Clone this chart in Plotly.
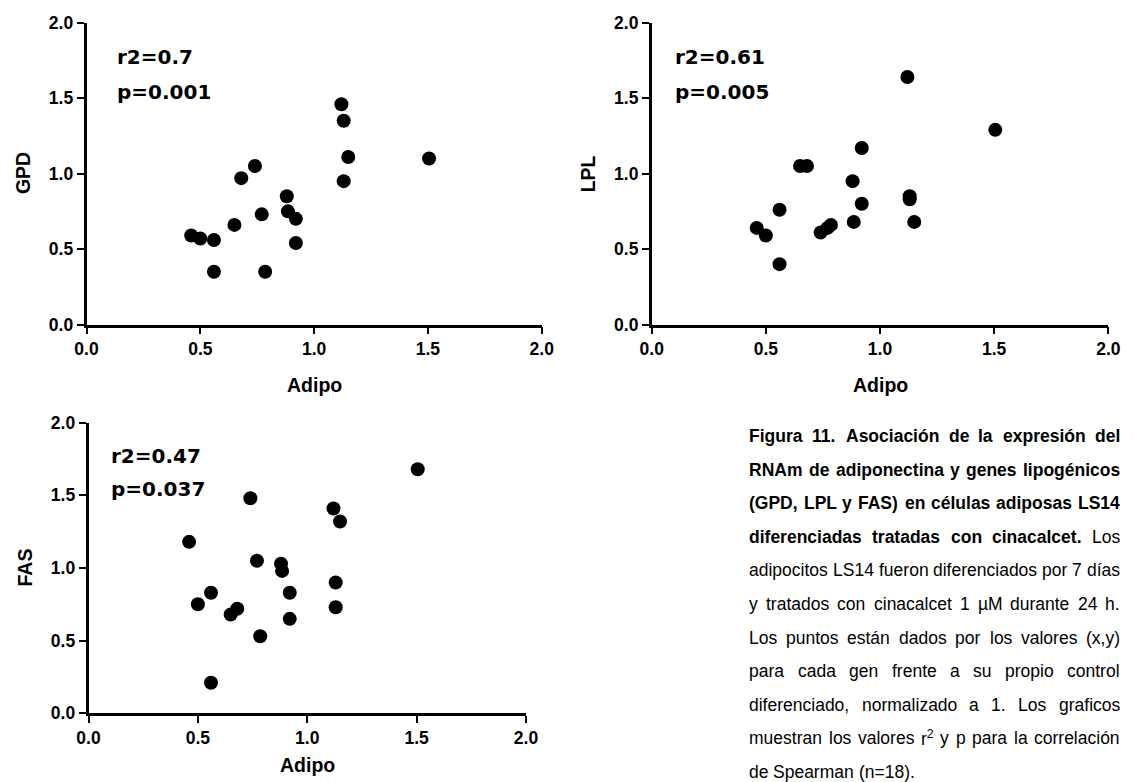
import plotly.graph_objects as go

# ---------------------------------------------------------------- data
adipo = [0.46, 0.50, 0.56, 0.56, 0.65, 0.68, 0.74, 0.77, 0.785,
         0.88, 0.885, 0.92, 0.92, 1.12, 1.13, 1.13, 1.15, 1.505]
gpd = [0.59, 0.57, 0.56, 0.35, 0.66, 0.97, 1.05, 0.73, 0.35,
       0.85, 0.75, 0.70, 0.54, 1.46, 1.35, 0.95, 1.11, 1.10]
lpl = [0.64, 0.59, 0.76, 0.40, 1.05, 1.05, 0.61, 0.64, 0.66,
       0.95, 0.68, 1.17, 0.80, 1.64, 0.85, 0.83, 0.68, 1.29]
fas = [1.18, 0.75, 0.83, 0.21, 0.68, 0.72, 1.48, 1.05, 0.53,
       1.03, 0.98, 0.83, 0.65, 1.41, 0.90, 0.73, 1.32, 1.68]

genes = ["GPD", "LPL", "FAS"]
x_title = "Adipo"
r2_labels = ["r2=0.7", "r2=0.61", "r2=0.47"]
p_labels = ["p=0.001", "p=0.005", "p=0.037"]
tick_vals = [0.0, 0.5, 1.0, 1.5, 2.0]
tick_text = ["0.0", "0.5", "1.0", "1.5", "2.0"]

# caption lines: list of (text, bold) runs
caption = [
    [("Figura 11. Asociación de la expresión del", True)],
    [("RNAm de adiponectina y genes lipogénicos", True)],
    [("(GPD, LPL y FAS) en células adiposas LS14", True)],
    [("diferenciadas tratadas con cinacalcet.", True), ("Los", False)],
    [("adipocitos LS14 fueron diferenciados por 7 días", False)],
    [("y tratados con cinacalcet 1 µM durante 24 h.", False)],
    [("Los puntos están dados por los valores (x,y)", False)],
    [("para cada gen frente a su propio control", False)],
    [("diferenciado, normalizado a 1. Los graficos", False)],
    [("muestran los valores r<sup>2</sup> y p para la correlación", False)],
    [("de Spearman (n=18).", False)],
]

# ---------------------------------------------------------------- layout geometry (pixels)
W, H = 1135, 782
panels = [  # x0, x1, ytop, ybottom
    (86.5, 541.7, 22.7, 324.5),
    (651.7, 1108.3, 22.7, 324.5),
    (88.5, 526.0, 422.7, 713.3),
]
stat_pos = [(115, 57, 92), (673, 57, 92), (109, 456, 489)]
x_title_y = [385, 385, 765]
Y_TITLE_OFFSET = 64

CAP_LEFT, CAP_RIGHT = 748, 1119
CAP_TOP, CAP_STEP = 436, 33.6
CAP_SIZE = 17.5

TICK_FONT = dict(family="Arial, Liberation Sans", size=17.5, color="black", weight="bold")
TITLE_FONT = dict(family="Arial, Liberation Sans", size=19.5, color="black", weight="bold")
STAT_FONT = dict(family="DejaVu Sans", size=20, color="black", weight="bold")

# Helvetica/Arial advance widths (1/1000 em) used to justify the caption
REG = {" ": 278, "(": 333, ")": 333, ",": 278, ".": 278, "=": 584,
       "a": 556, "b": 556, "c": 500, "d": 556, "e": 556, "f": 278, "g": 556,
       "h": 556, "i": 222, "j": 222, "k": 500, "l": 222, "m": 833, "n": 556,
       "o": 556, "p": 556, "q": 556, "r": 333, "s": 500, "t": 278, "u": 556,
       "v": 500, "w": 722, "x": 500, "y": 500, "z": 500,
       "á": 556, "é": 556, "í": 278, "ó": 556, "ú": 556, "µ": 556,
       "L": 556, "S": 667, "M": 833, "F": 611, "A": 667, "G": 778, "P": 667,
       "D": 722, "R": 722, "N": 722}
BOLD = {" ": 278, "(": 333, ")": 333, ",": 278, ".": 278, "=": 584,
        "a": 556, "b": 611, "c": 556, "d": 611, "e": 556, "f": 333, "g": 611,
        "h": 611, "i": 278, "j": 278, "k": 556, "l": 278, "m": 889, "n": 611,
        "o": 611, "p": 611, "q": 611, "r": 389, "s": 556, "t": 333, "u": 611,
        "v": 556, "w": 778, "x": 556, "y": 556, "z": 500,
        "á": 556, "é": 556, "í": 278, "ó": 611, "ú": 611,
        "L": 611, "S": 667, "M": 833, "F": 611, "A": 722, "G": 778, "P": 667,
        "D": 722, "R": 722, "N": 722}
for d in (REG, BOLD):
    for ch in "0123456789":
        d[ch] = 556


def word_width(word, bold):
    table = BOLD if bold else REG
    plain = word.replace("<sup>", "\x01").replace("</sup>", "\x02")
    total, scale = 0.0, 1.0
    for ch in plain:
        if ch == "\x01":
            scale = 0.7
        elif ch == "\x02":
            scale = 1.0
        else:
            total += table.get(ch, 556) * scale
    return total / 1000 * CAP_SIZE


def px_x(v):
    return v / W


def px_y(v):
    return 1 - v / H


fig = go.Figure()
series = [gpd, lpl, fas]
annotations = []

for i, (x0, x1, yt, yb) in enumerate(panels):
    sfx = "" if i == 0 else str(i + 1)
    fig.add_trace(go.Scatter(
        x=adipo, y=series[i], mode="markers",
        marker=dict(size=14, color="black", line=dict(width=0)),
        xaxis="x" + sfx, yaxis="y" + sfx, showlegend=False, hoverinfo="x+y",
    ))
    common = dict(
        range=[0, 2], tickmode="array", tickvals=tick_vals, ticktext=tick_text,
        showline=True, linecolor="black", linewidth=2.6, ticks="outside",
        ticklen=7, tickwidth=2.4, tickcolor="black", showgrid=False,
        zeroline=False, tickfont=TICK_FONT, fixedrange=True, automargin=False,
    )
    fig.update_layout(**{
        "xaxis" + sfx: dict(common, domain=[px_x(x0), px_x(x1)], anchor="y" + sfx),
        "yaxis" + sfx: dict(common, domain=[px_y(yb), px_y(yt)], anchor="x" + sfx),
    })
    # axis titles
    annotations.append(dict(
        text=x_title, x=px_x((x0 + x1) / 2), y=px_y(x_title_y[i]),
        xref="paper", yref="paper", xanchor="center", yanchor="middle",
        showarrow=False, font=TITLE_FONT,
    ))
    annotations.append(dict(
        text=genes[i], x=px_x(x0 - Y_TITLE_OFFSET), y=px_y((yt + yb) / 2),
        xref="paper", yref="paper", xanchor="center", yanchor="middle",
        textangle=-90, showarrow=False, font=TITLE_FONT,
    ))
    sx, ry, py = stat_pos[i]
    for txt, yy in ((r2_labels[i], ry), (p_labels[i], py)):
        annotations.append(dict(
            text=txt, x=px_x(sx), y=px_y(yy), xref="paper", yref="paper",
            xanchor="left", yanchor="middle", showarrow=False, font=STAT_FONT,
        ))

# justified caption, one text element per word
for li, runs in enumerate(caption):
    words = []
    for text, bold in runs:
        for w in text.split(" "):
            words.append((w, bold))
    widths = [word_width(w, b) for w, b in words]
    last = li == len(caption) - 1
    if last or len(words) == 1:
        gap = REG[" "] / 1000 * CAP_SIZE
    else:
        gap = (CAP_RIGHT - CAP_LEFT - sum(widths)) / (len(words) - 1)
    x = CAP_LEFT
    yy = CAP_TOP + li * CAP_STEP
    for (w, bold), wd in zip(words, widths):
        annotations.append(dict(
            text=w, x=px_x(x), y=px_y(yy), xref="paper", yref="paper",
            xanchor="left", yanchor="middle", showarrow=False, borderpad=0,
            font=dict(family="Arial, Liberation Sans", size=CAP_SIZE, color="black",
                      weight="bold" if bold else "normal"),
        ))
        x += wd + gap

fig.update_layout(
    width=W, height=H, autosize=False,
    margin=dict(l=0, r=0, t=0, b=0, autoexpand=False),
    paper_bgcolor="white", plot_bgcolor="white",
    annotations=annotations,
)

fig.write_html("out.html")
